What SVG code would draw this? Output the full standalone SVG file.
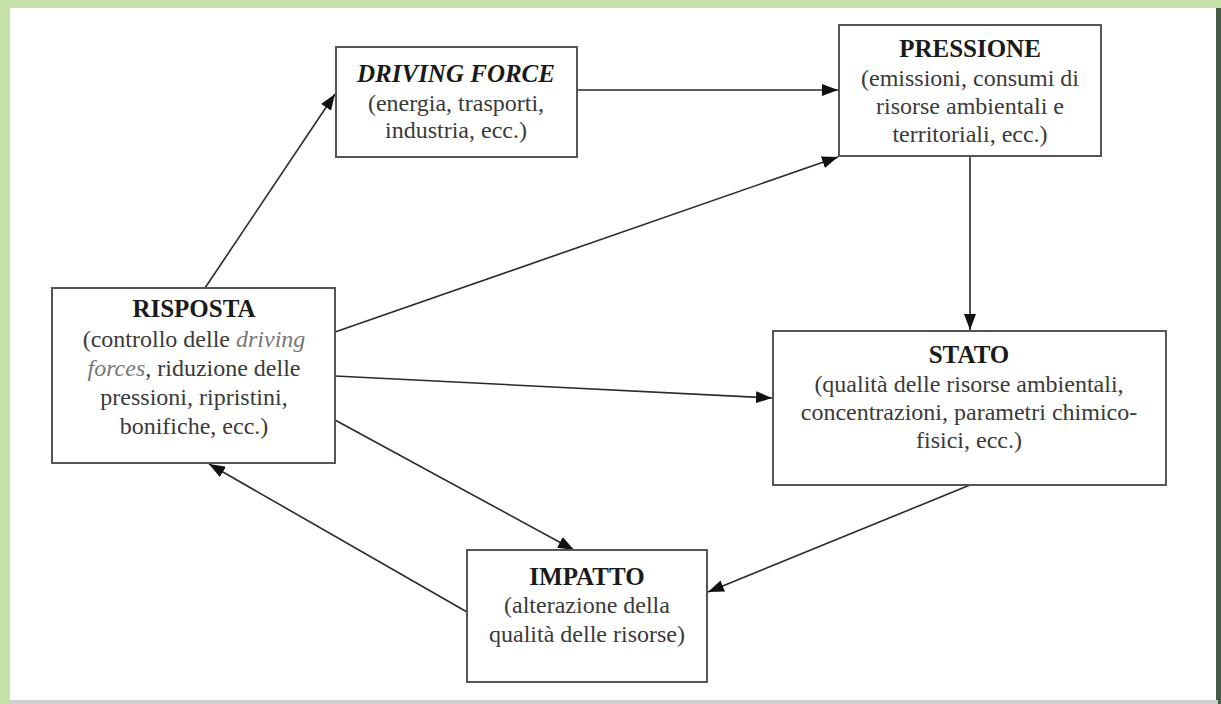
<svg xmlns="http://www.w3.org/2000/svg" width="1221" height="704" viewBox="0 0 1221 704">
<defs>
<style>
.box{fill:#fff;stroke:#555;stroke-width:2}
.t{font-family:"Liberation Serif","Times New Roman",serif;font-size:24px;fill:#3a3a3a;text-anchor:middle}
.b{font-weight:bold;fill:#1a1a1a;font-size:25px}
.c{stroke:#2a2a2a;stroke-width:1.6;fill:none;marker-end:url(#ah)}
</style>
<marker id="ah" viewBox="0 0 16 12" refX="16" refY="6" markerWidth="16" markerHeight="12" markerUnits="userSpaceOnUse" orient="auto">
<path d="M0,0 L16,6 L0,12 z" fill="#111"/>
</marker>
</defs>
<rect x="0" y="0" width="1221" height="704" fill="#c3e1a9"/>
<rect x="10" y="8" width="1208" height="694" fill="#fff"/>
<rect x="1216" y="8" width="5" height="696" fill="#4a5a48"/>
<rect x="10" y="700" width="1208" height="4" fill="#cfcfcf"/>
<g id="connectors">
<line class="c" x1="205" y1="288" x2="335" y2="94"/>
<line class="c" x1="577" y1="90" x2="838" y2="90"/>
<line class="c" x1="335" y1="332" x2="838" y2="157"/>
<line class="c" x1="970" y1="157" x2="970" y2="330"/>
<line class="c" x1="335" y1="376" x2="772" y2="398"/>
<line class="c" x1="335" y1="420" x2="574" y2="550"/>
<line class="c" x1="970" y1="485" x2="708" y2="592"/>
<line class="c" x1="467" y1="612" x2="209" y2="464"/>
</g>
<g id="driving">
<rect class="box" x="336" y="47" width="241" height="110"/>
<text class="t b" x="456" y="82" font-style="italic">DRIVING FORCE</text>
<text class="t" x="456" y="111">(energia, trasporti,</text>
<text class="t" x="456" y="138">industria, ecc.)</text>
</g>
<g id="pressione">
<rect class="box" x="839" y="25" width="262" height="131"/>
<text class="t b" x="970" y="57">PRESSIONE</text>
<text class="t" x="970" y="86">(emissioni, consumi di</text>
<text class="t" x="970" y="114">risorse ambientali e</text>
<text class="t" x="970" y="142">territoriali, ecc.)</text>
</g>
<g id="risposta">
<rect class="box" x="52" y="288" width="283" height="175"/>
<text class="t b" x="194" y="317">RISPOSTA</text>
<text class="t" x="194" y="347">(controllo delle <tspan font-style="italic" fill="#777">driving</tspan></text>
<text class="t" x="194" y="376"><tspan font-style="italic" fill="#777">forces</tspan>, riduzione delle</text>
<text class="t" x="194" y="405">pressioni, ripristini,</text>
<text class="t" x="194" y="434">bonifiche, ecc.)</text>
</g>
<g id="stato">
<rect class="box" x="773" y="331" width="393" height="154"/>
<text class="t b" x="969" y="363">STATO</text>
<text class="t" x="969" y="392">(qualità delle risorse ambientali,</text>
<text class="t" x="969" y="420">concentrazioni, parametri chimico-</text>
<text class="t" x="969" y="448">fisici, ecc.)</text>
</g>
<g id="impatto">
<rect class="box" x="467" y="550" width="240" height="132"/>
<text class="t b" x="587" y="585">IMPATTO</text>
<text class="t" x="587" y="613">(alterazione della</text>
<text class="t" x="587" y="642">qualità delle risorse)</text>
</g>
</svg>
